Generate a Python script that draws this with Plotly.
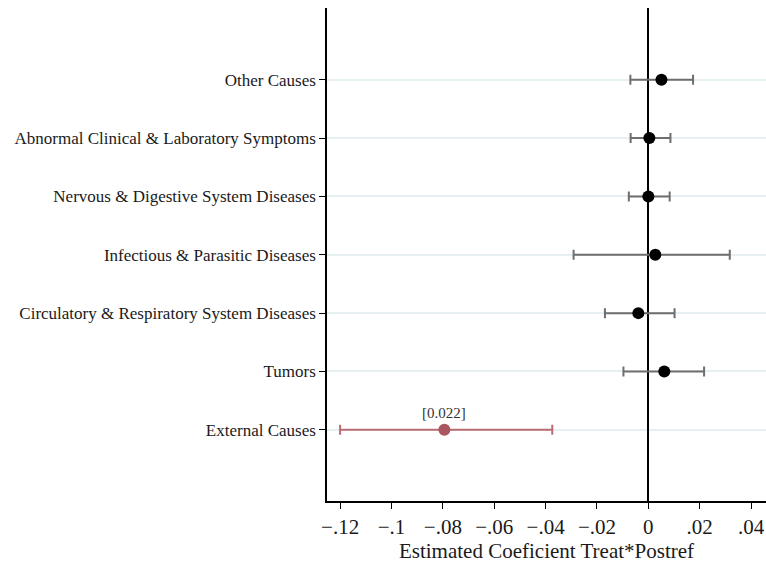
import plotly.graph_objects as go

categories = ["External Causes", "Tumors", "Circulatory & Respiratory System Diseases",
              "Infectious & Parasitic Diseases", "Nervous & Digestive System Diseases",
              "Abnormal Clinical & Laboratory Symptoms", "Other Causes"]
coef = [-0.0794, 0.0062, -0.0039, 0.0027, 0.0000, 0.0004, 0.0051]
ci_low = [-0.1200, -0.0097, -0.0169, -0.0291, -0.0076, -0.0069, -0.0070]
ci_high = [-0.0374, 0.0217, 0.0102, 0.0317, 0.0083, 0.0086, 0.0174]
significant = [True, False, False, False, False, False, False]
pvalue_labels = ["[0.022]", "", "", "", "", "", ""]

x_tickvals = [-0.12, -0.10, -0.08, -0.06, -0.04, -0.02, 0, 0.02, 0.04]
x_ticktext = ["\u2212.12", "\u2212.1", "\u2212.08", "\u2212.06", "\u2212.04", "\u2212.02", "0", ".02", ".04"]

FONT = "Liberation Serif"
fig = go.Figure()

for sig in (False, True):
    idx = [i for i in range(len(categories)) if significant[i] == sig]
    mcol = "#a9565f" if sig else "#000000"
    ecol = "#b96d72" if sig else "#6e6e6e"
    fig.add_trace(go.Scatter(
        x=[coef[i] for i in idx],
        y=[categories[i] for i in idx],
        mode="markers",
        marker=dict(color=mcol, size=12),
        error_x=dict(type="data", symmetric=False,
                     array=[ci_high[i] - coef[i] for i in idx],
                     arrayminus=[coef[i] - ci_low[i] for i in idx],
                     color=ecol, thickness=2, width=5),
        showlegend=False, hoverinfo="skip",
    ))

for i, lab in enumerate(pvalue_labels):
    if lab:
        fig.add_annotation(x=coef[i], y=categories[i], text=lab, showarrow=False,
                           yshift=17, font=dict(family=FONT, size=15, color="#333333"))

fig.update_layout(
    width=766, height=566,
    margin=dict(l=327, r=0, t=8, b=65),
    paper_bgcolor="white", plot_bgcolor="white",
    font=dict(family=FONT, color="#1a1a1a"),
    xaxis=dict(
        range=[-0.1251, 0.0458],
        tickvals=x_tickvals, ticktext=x_ticktext,
        tickfont=dict(family=FONT, size=21, color="#1a1a1a"),
        showgrid=False,
        zeroline=True, zerolinecolor="black", zerolinewidth=2,
        showline=True, linecolor="black", linewidth=1.5,
        ticks="outside", ticklen=6, tickcolor="black", tickwidth=1.2,
        title=dict(text="Estimated Coeficient Treat*Postref",
                   font=dict(family=FONT, size=21, color="#1a1a1a"), standoff=4),
    ),
    yaxis=dict(
        type="category", categoryorder="array", categoryarray=categories,
        range=[-1.22, 7.23],
        tickfont=dict(family=FONT, size=17, color="#1a1a1a"),
        showgrid=True, gridcolor="#e6eff1", gridwidth=1.5,
        zeroline=False,
        showline=True, linecolor="black", linewidth=1.5,
        ticks="outside", ticklen=6, tickcolor="black", tickwidth=1.2,
    ),
)

fig.write_html("out.html")
